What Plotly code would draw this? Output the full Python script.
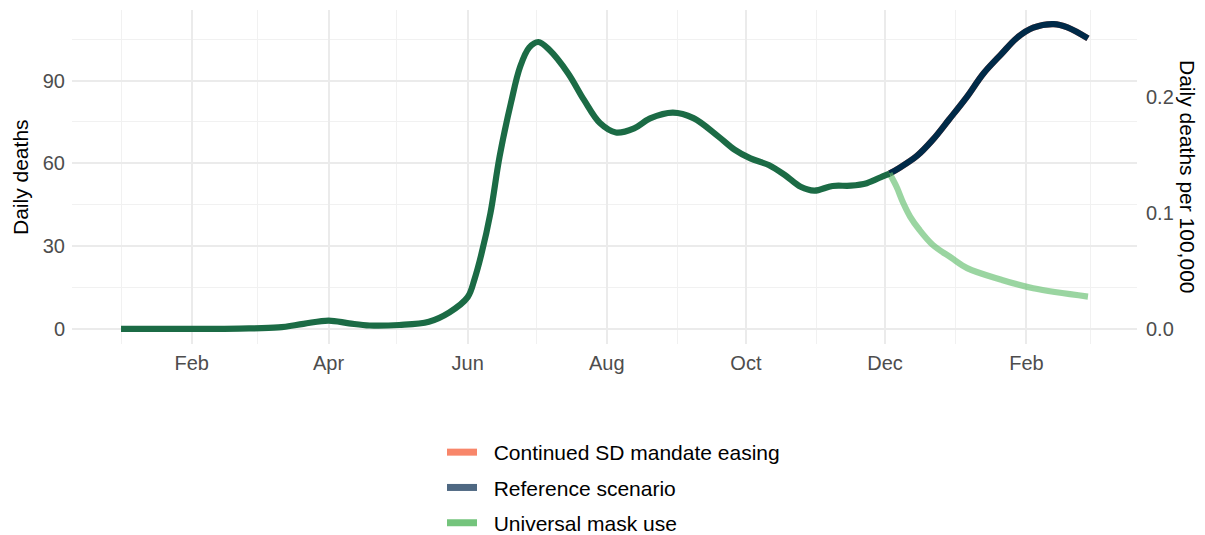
import plotly.graph_objects as go

# ---------------- data ----------------
hist_dates = ["2020-01-01", "2020-02-01", "2020-02-22", "2020-03-10", "2020-03-21", "2020-04-01",
              "2020-04-10", "2020-04-19", "2020-05-02", "2020-05-15", "2020-05-24", "2020-06-01",
              "2020-06-04", "2020-06-07", "2020-06-11", "2020-06-15", "2020-06-20", "2020-06-24",
              "2020-06-28", "2020-07-02", "2020-07-07", "2020-07-15", "2020-07-22", "2020-07-29",
              "2020-08-05", "2020-08-13", "2020-08-20", "2020-08-30", "2020-09-08", "2020-09-19",
              "2020-09-26", "2020-10-03", "2020-10-11", "2020-10-18", "2020-10-25", "2020-10-31",
              "2020-11-08", "2020-11-16", "2020-11-23", "2020-11-30", "2020-12-03"]
hist_deaths = [0, 0, 0.1, 0.5, 1.8, 3.0,
               2.0, 1.2, 1.4, 2.6, 6.0, 11.5,
               18, 27, 42, 62.5, 82, 95,
               102, 104, 101, 92.7, 83, 74.6,
               71.2, 72.7, 76.3, 78.4, 76.4, 69.7,
               65, 61.8, 59.4, 55.8, 51.5, 50.1,
               51.8, 51.9, 52.8, 55.3, 56.3]

ref_dates = ["2020-12-03", "2020-12-07", "2020-12-15", "2020-12-22", "2020-12-29", "2021-01-06",
             "2021-01-13", "2021-01-21", "2021-01-28", "2021-02-04", "2021-02-13", "2021-02-19",
             "2021-02-28"]
ref_deaths = [56.3, 58.2, 62.7, 68.6, 75.8, 84.2,
              92.4, 99.6, 105.6, 109.2, 110.5, 109.3,
              105.3]

# Continued SD mandate easing coincides with the reference scenario
sd_dates = ref_dates
sd_deaths = ref_deaths

mask_dates = ["2020-12-03", "2020-12-06", "2020-12-09", "2020-12-12", "2020-12-16", "2020-12-22",
              "2020-12-30", "2021-01-06", "2021-01-21", "2021-02-04", "2021-02-28"]
mask_deaths = [56.3, 51.6, 45.6, 40.7, 36.0, 30.4,
               25.8, 22.0, 17.8, 14.7, 11.7]

POPULATION = 42_000_000

x_tick_vals = ["2020-02-01", "2020-04-01", "2020-06-01", "2020-08-01", "2020-10-01", "2020-12-01", "2021-02-01"]
x_tick_text = ["Feb", "Apr", "Jun", "Aug", "Oct", "Dec", "Feb"]
x_minor_vals = ["2020-01-01", "2020-03-01", "2020-05-01", "2020-07-01", "2020-09-01", "2020-11-01",
                "2021-01-01", "2021-03-01"]
y_tick_vals = [0, 30, 60, 90]
y_minor_vals = [15, 45, 75, 105]
y2_tick_vals = [0.0, 0.1, 0.2]
y2_tick_text = ["0.0", "0.1", "0.2"]

legend_names = ["Continued SD mandate easing", "Reference scenario", "Universal mask use"]
legend_colors = ["#F8866A", "#4E6882", "#74C47C"]

# ---------------- figure ----------------
FONT = "Liberation Sans, Arial, sans-serif"
W, H = 1205, 535
fig = go.Figure()

LW = 6.2
SM = 1.0
fig.add_trace(go.Scatter(x=sd_dates, y=sd_deaths, mode="lines", showlegend=False,
                         line=dict(color="#F88160", width=LW, shape="spline", smoothing=SM)))
fig.add_trace(go.Scatter(x=ref_dates, y=ref_deaths, mode="lines", showlegend=False,
                         line=dict(color="#002A48", width=LW, shape="spline", smoothing=SM)))
fig.add_trace(go.Scatter(x=mask_dates, y=mask_deaths, mode="lines", showlegend=False,
                         line=dict(color="rgba(100,190,110,0.65)", width=LW, shape="spline", smoothing=SM)))
fig.add_trace(go.Scatter(x=hist_dates, y=hist_deaths, mode="lines", showlegend=False,
                         line=dict(color="#1B6B45", width=LW, shape="spline", smoothing=SM)))

# invisible copy on the secondary axis (per 100,000)
fig.add_trace(go.Scatter(x=hist_dates, y=[d * 1e5 / POPULATION for d in hist_deaths], yaxis="y2",
                         mode="lines", line=dict(width=0, color="rgba(0,0,0,0)"),
                         showlegend=False, hoverinfo="skip"))

for i, (name, col) in enumerate(zip(legend_names, legend_colors)):
    fig.add_trace(go.Scatter(x=[None], y=[None], mode="lines", name="\u00a0\u00a0" + name,
                             legendgroup=str(i), line=dict(color=col, width=7)))

y_lo, y_hi = -5.5, 115.6
L, R, T, B = 72, 68, 10, 191

fig.update_layout(
    width=W, height=H,
    margin=dict(l=L, r=R, t=T, b=B, autoexpand=False),
    paper_bgcolor="white", plot_bgcolor="white",
    font=dict(family=FONT, size=20, color="#4D4D4D"),
    xaxis=dict(type="date", range=["2019-12-10 12:00", "2021-03-21 12:00"], automargin=False,
               tickvals=x_tick_vals, ticktext=x_tick_text, showline=False, zeroline=False,
               showgrid=True, gridcolor="#EBEBEB", gridwidth=1.6, ticks="",
               ticklabelstandoff=5,
               tickfont=dict(size=20, color="#4D4D4D"),
               minor=dict(tickvals=x_minor_vals, showgrid=True, gridcolor="#F1F1F1", gridwidth=1.2)),
    yaxis=dict(range=[y_lo, y_hi], tickvals=y_tick_vals, showline=False, zeroline=False,
               automargin=False,
               showgrid=True, gridcolor="#EBEBEB", gridwidth=1.6, ticks="",
               ticklabelstandoff=6,
               tickfont=dict(size=20, color="#4D4D4D"),
               minor=dict(tickvals=y_minor_vals, showgrid=True, gridcolor="#F1F1F1", gridwidth=1.2)),
    yaxis2=dict(overlaying="y", side="right", automargin=False,
                range=[y_lo * 1e5 / POPULATION, y_hi * 1e5 / POPULATION],
                tickvals=y2_tick_vals, ticktext=y2_tick_text, showgrid=False, zeroline=False,
                showline=False, ticks="", ticklabelstandoff=8,
                tickfont=dict(size=20, color="#4D4D4D")),
    legend=dict(orientation="v", xref="container", yref="container",
                x=442 / W, xanchor="left", y=1 - 432 / H, yanchor="top",
                font=dict(family=FONT, size=21, color="black"), tracegroupgap=5,
                itemwidth=30, bgcolor="rgba(0,0,0,0)"),
    annotations=[
        dict(text="Daily deaths", xref="paper", yref="paper", x=(20 - L) / (W - L - R), y=0.5,
             xanchor="center", yanchor="middle", textangle=-90, showarrow=False,
             font=dict(family=FONT, size=21, color="black")),
        dict(text="Daily deaths per 100,000", xref="paper", yref="paper",
             x=(1188 - L) / (W - L - R), y=0.5, xanchor="center", yanchor="middle",
             textangle=90, showarrow=False, font=dict(family=FONT, size=21, color="black")),
    ],
)

fig.write_html("out.html", config={"displayModeBar": False},
               post_script="document.body.style.margin='0px';document.body.style.overflow='hidden';")
